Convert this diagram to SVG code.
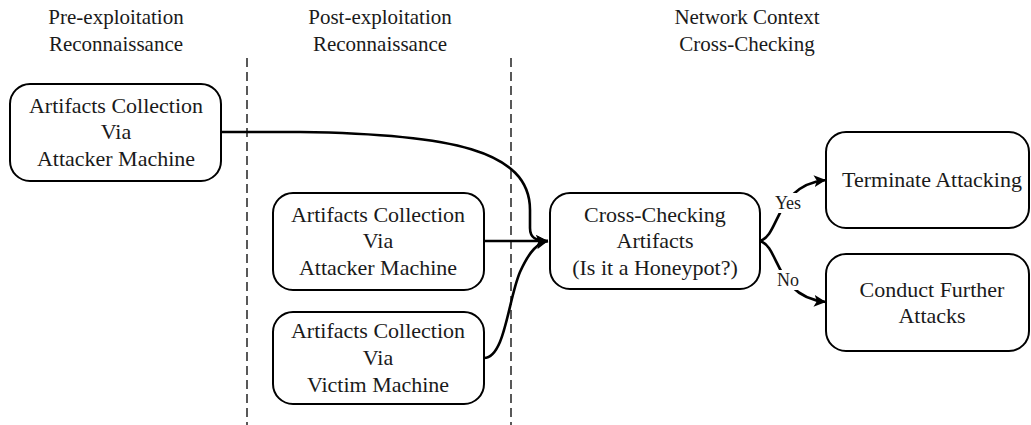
<svg xmlns="http://www.w3.org/2000/svg" width="1031" height="425" viewBox="0 0 1031 425">
  <style>
    .box { fill: #fff; stroke: #000; stroke-width: 2; }
    .lbl { font-family: "Liberation Serif", "Times New Roman", serif; font-size: 22px; fill: #1a1a1a; text-anchor: middle; }
    .hdr { font-family: "Liberation Serif", "Times New Roman", serif; font-size: 21px; fill: #1a1a1a; text-anchor: middle; }
    .elbl { font-family: "Liberation Serif", "Times New Roman", serif; font-size: 18px; fill: #1a1a1a; text-anchor: middle; }
    .sep { stroke: #000; stroke-width: 1.3; stroke-dasharray: 9 5; fill: none; }
    .edge { fill: none; stroke: #000; stroke-width: 2.6; marker-end: url(#arrow); }
  </style>
  <defs>
    <marker id="arrow" markerUnits="userSpaceOnUse" markerWidth="14" markerHeight="12" refX="12" refY="6" orient="auto">
      <path d="M0,0 L12,6 L0,12 L3,6 z" fill="#000"/>
    </marker>
  </defs>
  <rect width="1031" height="425" fill="#fff"/>

  <!-- phase headers -->
  <g id="headers">
    <text class="hdr" x="116" y="24">Pre-exploitation</text>
    <text class="hdr" x="116" y="51">Reconnaissance</text>
    <text class="hdr" x="380" y="24">Post-exploitation</text>
    <text class="hdr" x="380" y="51">Reconnaissance</text>
    <text class="hdr" x="747" y="24">Network Context</text>
    <text class="hdr" x="747" y="51">Cross-Checking</text>
  </g>

  <!-- phase separators -->
  <g id="separators">
    <line class="sep" x1="247" y1="58" x2="247" y2="425"/>
    <line class="sep" x1="511" y1="58" x2="511" y2="425"/>
  </g>

  <!-- connectors -->
  <g id="connectors">
    <path class="edge" d="M221,132 L300,132 C450,134 530,150 530,210 L530,228 C530,238 536,241 548,241"/>
    <path class="edge" d="M484,241 L548,241"/>
    <path class="edge" d="M484,358 C505,358 508,300 520,272 C530,250 538,243 548,241"/>
    <path class="edge" d="M760,241 C780,235 775,185 826,180"/>
    <path class="edge" d="M760,241 C780,247 775,297 826,302"/>
    <rect x="772" y="193" width="32" height="20" fill="#fff"/>
    <text class="elbl" x="788" y="209">Yes</text>
    <rect x="774" y="270" width="28" height="20" fill="#fff"/>
    <text class="elbl" x="788" y="286">No</text>
  </g>

  <g id="pre-collect">
    <rect class="box" x="10" y="84" width="211" height="97" rx="20"/>
    <text class="lbl" x="116" y="113">Artifacts Collection</text>
    <text class="lbl" x="116" y="139">Via</text>
    <text class="lbl" x="116" y="166">Attacker Machine</text>
  </g>

  <g id="post-attacker">
    <rect class="box" x="273" y="193" width="211" height="97" rx="20"/>
    <text class="lbl" x="378" y="222">Artifacts Collection</text>
    <text class="lbl" x="378" y="248">Via</text>
    <text class="lbl" x="378" y="275">Attacker Machine</text>
  </g>

  <g id="post-victim">
    <rect class="box" x="273" y="312" width="211" height="92" rx="20"/>
    <text class="lbl" x="378" y="338">Artifacts Collection</text>
    <text class="lbl" x="378" y="365">Via</text>
    <text class="lbl" x="378" y="392">Victim Machine</text>
  </g>

  <g id="cross-check">
    <rect class="box" x="550" y="193" width="210" height="96" rx="20"/>
    <text class="lbl" x="655" y="222">Cross-Checking</text>
    <text class="lbl" x="655" y="248">Artifacts</text>
    <text class="lbl" x="655" y="275">(Is it a Honeypot?)</text>
  </g>

  <g id="terminate">
    <rect class="box" x="826" y="132" width="203" height="96" rx="20"/>
    <text class="lbl" x="932" y="187">Terminate Attacking</text>
  </g>

  <g id="further">
    <rect class="box" x="826" y="254" width="203" height="97" rx="20"/>
    <text class="lbl" x="932" y="297">Conduct Further</text>
    <text class="lbl" x="932" y="323">Attacks</text>
  </g>
</svg>
